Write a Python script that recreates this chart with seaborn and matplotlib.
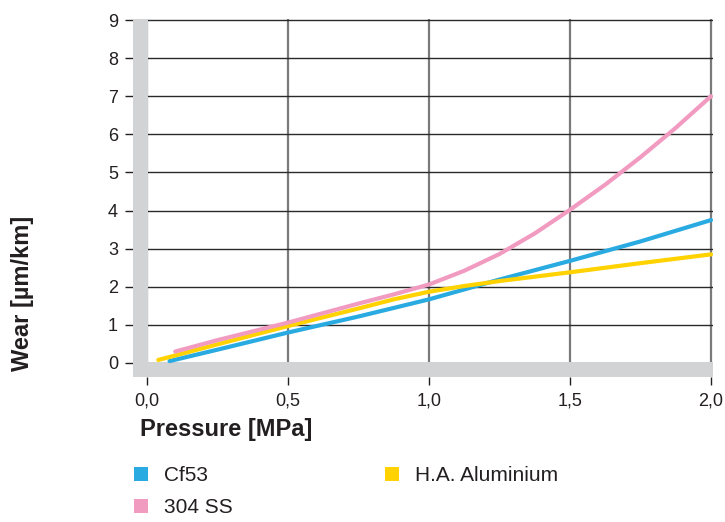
import matplotlib
matplotlib.use("Agg")
import matplotlib.pyplot as plt
from matplotlib.lines import Line2D
import seaborn as sns
import pandas as pd

# ---- data ----
cf53_x = [0.08, 0.25, 0.5, 0.75, 1.0, 1.25, 1.5, 1.75, 2.0]
cf53_y = [0.05, 0.35, 0.80, 1.22, 1.67, 2.19, 2.68, 3.19, 3.75]

alu_x = [0.04, 0.25, 0.5, 0.75, 0.875, 1.0, 1.125, 1.25, 1.5, 1.75, 2.0]
alu_y = [0.08, 0.49, 0.97, 1.43, 1.67, 1.87, 2.02, 2.15, 2.38, 2.62, 2.85]

ss_x = [0.10, 0.25, 0.5, 0.75, 0.875, 1.0, 1.125, 1.25, 1.375, 1.5, 1.625, 1.75, 1.875, 2.0]
ss_y = [0.30, 0.60, 1.06, 1.56, 1.80, 2.06, 2.42, 2.86, 3.40, 4.02, 4.68, 5.40, 6.17, 7.00]

series_names = ["Cf53", "304 SS", "H.A. Aluminium"]
x_ticks = [0.0, 0.5, 1.0, 1.5, 2.0]
x_tick_labels = ["0,0", "0,5", "1,0", "1,5", "2,0"]
y_ticks = [0, 1, 2, 3, 4, 5, 6, 7, 8, 9]
x_label = "Pressure [MPa]"
y_label = "Wear [µm/km]"

colors = {"Cf53": "#29ABE2", "304 SS": "#F29BC1", "H.A. Aluminium": "#FFD200"}
GRAY = "#D1D3D4"
TXT = "#231F20"

df = pd.concat([
    pd.DataFrame({"pressure": cf53_x, "wear": cf53_y, "material": "Cf53"}),
    pd.DataFrame({"pressure": alu_x, "wear": alu_y, "material": "H.A. Aluminium"}),
    pd.DataFrame({"pressure": ss_x, "wear": ss_y, "material": "304 SS"}),
], ignore_index=True)

sns.set_theme(style="white")
plt.rcParams["font.family"] = ["Liberation Sans", "DejaVu Sans"]

W, H = 725, 522
fig = plt.figure(figsize=(W / 100, H / 100), dpi=100)
ax = fig.add_axes([133 / W, 1 - 377 / H, 580 / W, (377 - 19) / H])

ax.set_xlim(-14 / 282, 2 + 2 / 282)
ax.set_ylim(-14 / 38.11, 9 + 1 / 38.11)

# grid
ax.set_axisbelow(True)
ax.yaxis.grid(True, color="#2a2a2a", lw=1.0, zorder=0)
ax.xaxis.grid(True, color="#7a7a7a", lw=1.6, zorder=0)

# thick gray axis bars
ax.axvspan(-14 / 282, 0.004, color=GRAY, lw=0, zorder=1)
ax.axhspan(-14 / 38.11, 0.03, color=GRAY, lw=0, zorder=1)

sns.lineplot(data=df, x="pressure", y="wear", hue="material",
             palette=colors, linewidth=3.0, legend=False, ax=ax,
             estimator=None, sort=True, zorder=3)
for ln in ax.get_lines():
    ln.set_solid_joinstyle("round")

for s in ax.spines.values():
    s.set_visible(False)

ax.set_xticks(x_ticks)
ax.set_xticklabels(x_tick_labels)
ax.set_yticks(y_ticks)
ax.tick_params(axis="x", bottom=True, length=5.5, width=1.0, color=TXT,
               pad=6, labelsize=13, labelcolor=TXT, direction="out")
ax.tick_params(axis="y", left=True, length=5.8, width=1.0, color=TXT,
               pad=5, labelsize=13, labelcolor=TXT, direction="out")

ax.set_xlabel(x_label, fontsize=17, fontweight="bold", color=TXT, ha="left", va="top")
ax.xaxis.set_label_coords((140 - 133) / 580, -(418 - 377) / 358)
ax.set_ylabel(y_label, fontsize=17, fontweight="bold", color=TXT)
ax.yaxis.set_label_coords((34 - 133) / 580, (377 - 293) / 358)

handles = [Line2D([], [], marker="s", ls="", markersize=10.5,
                  markerfacecolor=colors[n], markeredgewidth=0) for n in series_names]
leg = fig.legend(handles, series_names, loc="upper left",
                 bbox_to_anchor=(133 / W, 1 - 466 / H), ncol=2, frameon=False,
                 fontsize=15, handlelength=0.72, handletextpad=0.75,
                 columnspacing=7.3, labelspacing=0.62, borderpad=0, borderaxespad=0)
for t in leg.get_texts():
    t.set_color(TXT)

fig.savefig("out.png", dpi=100)
